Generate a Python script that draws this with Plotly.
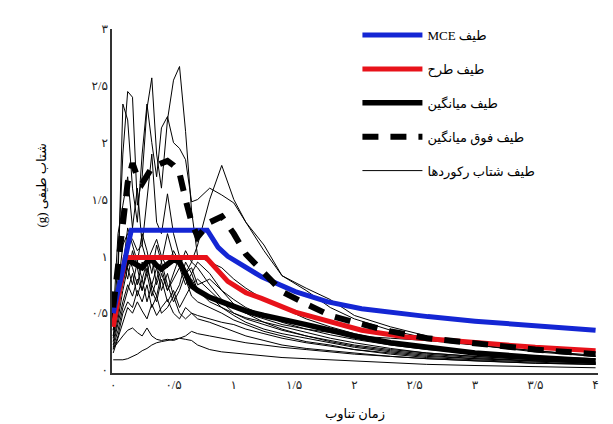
import plotly.graph_objects as go

# ---------------- data ----------------
T = [0.0, 0.04, 0.08, 0.12, 0.16, 0.2, 0.24, 0.28, 0.32, 0.36, 0.4, 0.45, 0.5, 0.55, 0.6, 0.65,
     0.7, 0.8, 0.9, 1.0, 1.1, 1.25, 1.4, 1.6, 1.8, 2.0, 2.3, 2.6, 3.0, 3.5, 4.0]

rec1 = [0.40, 0.95, 1.90, 2.45, 2.40, 1.45, 1.70, 2.30, 2.57, 1.90, 1.60, 2.20, 2.55, 2.67, 2.10, 1.40,
        1.00, 0.95, 0.90, 0.80, 0.72, 0.62, 0.55, 0.45, 0.38, 0.32, 0.25, 0.20, 0.16, 0.12, 0.10]
rec2 = [0.35, 0.80, 2.34, 2.20, 1.60, 1.30, 1.90, 2.34, 2.00, 1.70, 2.13, 2.23, 2.00, 1.95, 1.85, 1.48,
        1.50, 1.60, 1.54, 1.47, 1.30, 1.10, 0.83, 0.70, 0.55, 0.45, 0.35, 0.28, 0.22, 0.17, 0.13]
rec3 = [0.30, 0.55, 0.90, 1.25, 1.10, 0.95, 1.20, 1.05, 0.85, 1.10, 0.95, 1.20, 1.00, 0.90, 1.05, 0.95,
        1.10, 1.50, 1.80, 1.50, 1.30, 1.05, 0.83, 0.72, 0.62, 0.48, 0.38, 0.30, 0.22, 0.16, 0.12]
rec4 = [0.45, 1.20, 1.45, 1.70, 1.25, 1.60, 1.10, 1.50, 1.90, 1.30, 1.20, 1.55, 1.20, 1.00, 0.85, 0.80,
        0.70, 0.60, 0.55, 0.50, 0.45, 0.40, 0.35, 0.30, 0.26, 0.22, 0.18, 0.15, 0.12, 0.09, 0.07]
rec5 = [0.30, 0.60, 0.95, 0.80, 1.05, 0.90, 0.70, 0.85, 1.00, 0.75, 0.90, 0.70, 0.85, 1.00, 0.80, 0.65,
        0.60, 0.55, 0.50, 0.44, 0.40, 0.34, 0.30, 0.25, 0.22, 0.18, 0.14, 0.11, 0.09, 0.07, 0.05]
rec6 = [0.25, 0.45, 0.70, 0.90, 0.75, 0.95, 0.80, 0.60, 0.75, 0.90, 0.70, 0.85, 0.65, 0.75, 0.95, 0.85,
        0.70, 0.65, 0.55, 0.48, 0.42, 0.36, 0.32, 0.28, 0.24, 0.20, 0.16, 0.13, 0.10, 0.08, 0.06]
rec7 = [0.20, 0.35, 0.55, 0.70, 0.85, 0.65, 0.80, 0.95, 0.70, 0.60, 0.80, 0.60, 0.70, 0.55, 0.65, 0.75,
        0.80, 0.70, 0.60, 0.50, 0.46, 0.42, 0.38, 0.33, 0.28, 0.24, 0.19, 0.15, 0.12, 0.09, 0.07]
rec8 = [0.18, 0.30, 0.50, 0.60, 0.55, 0.70, 0.60, 0.75, 0.55, 0.65, 0.50, 0.55, 0.65, 0.50, 0.45, 0.50,
        0.45, 0.42, 0.38, 0.34, 0.30, 0.26, 0.22, 0.19, 0.17, 0.15, 0.12, 0.10, 0.08, 0.06, 0.05]
rec9 = [0.19, 0.25, 0.30, 0.35, 0.37, 0.33, 0.30, 0.37, 0.30, 0.27, 0.26, 0.27, 0.26, 0.28, 0.30, 0.34,
        0.32, 0.30, 0.28, 0.26, 0.24, 0.22, 0.20, 0.18, 0.16, 0.14, 0.12, 0.10, 0.08, 0.06, 0.05]
rec10 = [0.09, 0.09, 0.09, 0.10, 0.12, 0.14, 0.17, 0.19, 0.22, 0.24, 0.25, 0.26, 0.27, 0.28, 0.27, 0.26,
         0.22, 0.18, 0.16, 0.15, 0.14, 0.12, 0.11, 0.10, 0.09, 0.08, 0.06, 0.05, 0.04, 0.03, 0.02]
rec11 = [0.35, 0.70, 1.10, 1.20, 1.15, 1.05, 1.10, 0.95, 1.05, 1.15, 1.00, 0.90, 1.05, 0.95, 0.85, 0.90,
         0.75, 0.80, 0.70, 0.62, 0.55, 0.48, 0.42, 0.36, 0.31, 0.27, 0.22, 0.18, 0.15, 0.11, 0.09]
rec12 = [0.28, 0.50, 0.80, 1.00, 0.90, 0.75, 0.95, 0.85, 0.65, 0.80, 0.95, 0.75, 0.60, 0.70, 0.85, 0.95,
         0.90, 0.75, 0.62, 0.55, 0.50, 0.45, 0.40, 0.36, 0.33, 0.30, 0.28, 0.26, 0.22, 0.17, 0.12]
rec13 = [0.22, 0.40, 0.60, 0.75, 0.65, 0.80, 0.70, 0.90, 0.75, 0.65, 0.85, 0.70, 0.80, 0.90, 0.75, 0.85,
         0.95, 0.85, 0.70, 0.58, 0.50, 0.42, 0.36, 0.30, 0.25, 0.21, 0.17, 0.14, 0.11, 0.08, 0.06]
rec14 = [0.15, 0.28, 0.42, 0.55, 0.50, 0.60, 0.52, 0.45, 0.58, 0.48, 0.55, 0.62, 0.50, 0.45, 0.55, 0.50,
         0.48, 0.45, 0.42, 0.40, 0.36, 0.32, 0.28, 0.24, 0.21, 0.18, 0.15, 0.12, 0.10, 0.08, 0.06]
records = [rec1, rec2, rec3, rec4, rec5, rec6, rec7, rec8, rec9, rec10, rec11, rec12, rec13, rec14]

mean_sa = [0.45, 0.65, 0.85, 0.97, 0.95, 0.92, 0.90, 0.95, 0.97, 0.92, 0.89, 0.93, 0.97, 0.95, 0.84, 0.74,
           0.70, 0.64, 0.60, 0.56, 0.52, 0.48, 0.45, 0.40, 0.35, 0.30, 0.24, 0.20, 0.15, 0.11, 0.08]
meanplus_sa = [0.55, 0.95, 1.35, 1.65, 1.82, 1.70, 1.64, 1.72, 1.78, 1.80, 1.82, 1.84, 1.80, 1.73, 1.50, 1.30,
               1.17, 1.30, 1.35, 1.20, 1.02, 0.85, 0.69, 0.58, 0.48, 0.42, 0.34, 0.28, 0.23, 0.18, 0.14]

mce_T = [0.0, 0.15, 0.78, 0.87, 0.95, 1.1, 1.23, 1.51, 1.78, 2.06, 2.34, 2.61, 3.0, 3.5, 4.0]
mce_sa = [0.50, 1.23, 1.23, 1.08, 1.00, 0.90, 0.82, 0.69, 0.60, 0.54, 0.50, 0.47, 0.43, 0.39, 0.35]

design_T = [0.0, 0.1, 0.77, 0.95, 1.1, 1.23, 1.51, 1.78, 2.06, 2.43, 3.0, 3.5, 4.0]
design_sa = [0.38, 0.99, 0.99, 0.78, 0.68, 0.63, 0.51, 0.43, 0.35, 0.29, 0.24, 0.20, 0.17]

x_ticks = [0, 0.5, 1, 1.5, 2, 2.5, 3, 3.5, 4]
x_labels = ["۰", "۰/۵", "۱", "۱/۵", "۲", "۲/۵", "۳", "۳/۵", "۴"]
y_ticks = [0, 0.5, 1, 1.5, 2, 2.5, 3]
y_labels = ["۰", "۰/۵", "۱", "۱/۵", "۲", "۲/۵", "۳"]

RLE, PDF = "\u202b", "\u202c"
name_mce = RLE + "طیف MCE" + PDF
name_design = RLE + "طیف طرح" + PDF
name_mean = RLE + "طیف میانگین" + PDF
name_meanplus = RLE + "طیف فوق میانگین" + PDF
name_records = RLE + "طیف شتاب رکوردها" + PDF
x_title = RLE + "زمان تناوب" + PDF
y_title = RLE + "شتاب طیفی (g)" + PDF

FONT = "Liberation Serif, DejaVu Serif, DejaVu Sans, serif"

# ---------------- figure ----------------
fig = go.Figure()

for i, r in enumerate(records):
    fig.add_trace(go.Scatter(
        x=T, y=r, mode="lines", line=dict(color="black", width=1),
        name=name_records, legendgroup="rec", showlegend=(i == 0), legendrank=5))

fig.add_trace(go.Scatter(x=T, y=mean_sa, mode="lines", line=dict(color="black", width=5.5),
                         name=name_mean, legendgroup="mean", legendrank=3))
fig.add_trace(go.Scatter(x=design_T, y=design_sa, mode="lines", line=dict(color="#e8121a", width=5),
                         name=name_design, legendgroup="design", legendrank=2))
fig.add_trace(go.Scatter(x=mce_T, y=mce_sa, mode="lines", line=dict(color="#1426d4", width=5),
                         name=name_mce, legendgroup="mce", legendrank=1))
fig.add_trace(go.Scatter(x=T, y=meanplus_sa, mode="lines",
                         line=dict(color="black", width=6, dash="16px,12px"),
                         name=name_meanplus, legendgroup="meanplus", legendrank=4))

fig.update_layout(
    width=613, height=424,
    margin=dict(l=104, r=23, t=17, b=59),
    paper_bgcolor="white", plot_bgcolor="white",
    font=dict(family=FONT, size=13, color="black"),
    showlegend=True,
    legend=dict(x=0.505, y=1.026, xanchor="left", yanchor="top",
                bgcolor="rgba(255,255,255,0)", borderwidth=0,
                font=dict(family=FONT, size=13),
                itemwidth=60, tracegroupgap=14, traceorder="grouped"),
    xaxis=dict(range=[-0.01, 4.02], tickmode="array", tickvals=x_ticks, ticktext=x_labels,
               showgrid=False, zeroline=False, showline=True, linecolor="#333", linewidth=1.5,
               ticks="", tickfont=dict(size=12, color="#222"), fixedrange=True),
    yaxis=dict(range=[-0.026, 3.0], tickmode="array", tickvals=y_ticks, ticktext=y_labels,
               showgrid=False, zeroline=False, showline=True, linecolor="#333", linewidth=1.5,
               ticks="", tickfont=dict(size=12, color="#222"), fixedrange=True),
    annotations=[
        dict(text=x_title, xref="paper", yref="paper", x=0.5, y=-0.12, xanchor="center",
             yanchor="middle", showarrow=False, font=dict(size=13)),
        dict(text=y_title, xref="paper", yref="paper", x=-0.146, y=0.545, xanchor="center",
             yanchor="middle", textangle=-90, showarrow=False, font=dict(size=13)),
    ],
)

fig.write_html("out.html")
